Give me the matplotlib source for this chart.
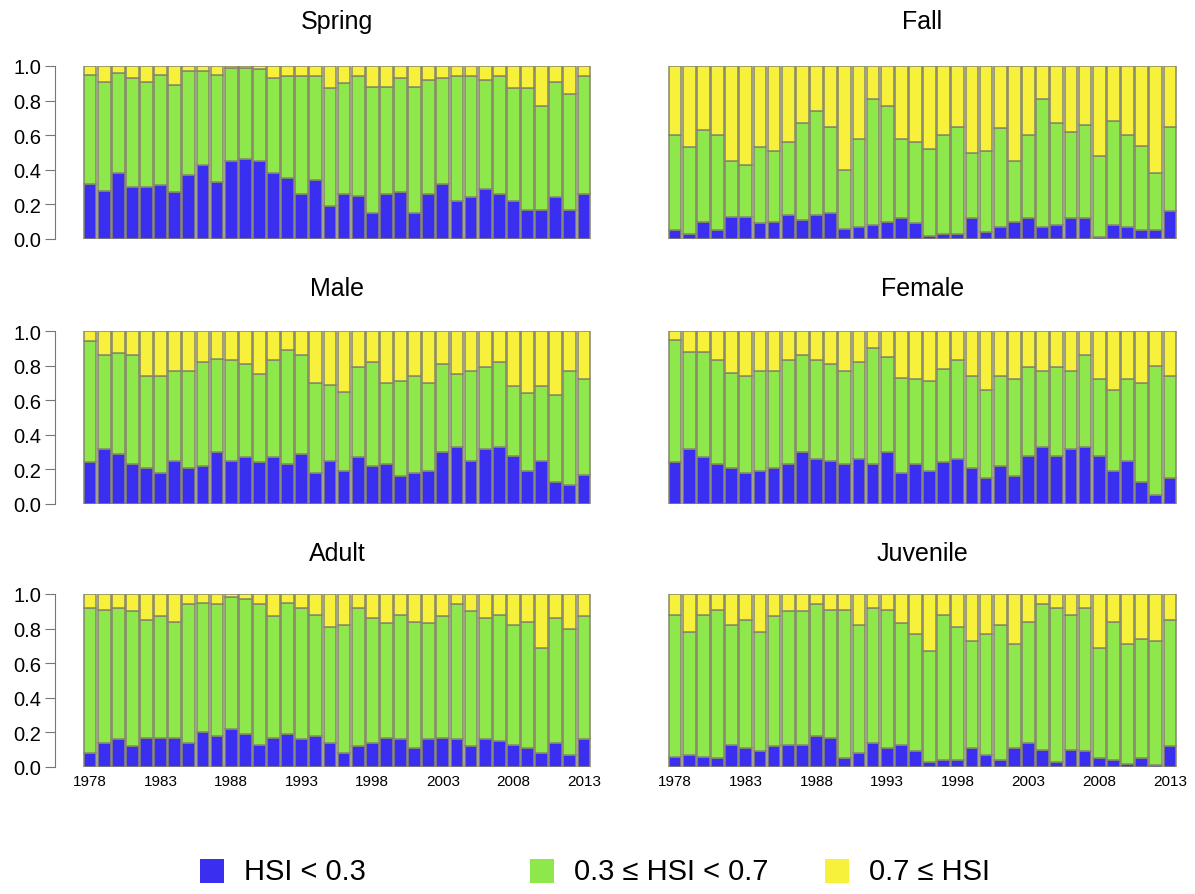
import numpy as np
import matplotlib
matplotlib.use("Agg")
import matplotlib.pyplot as plt
from matplotlib.patches import Rectangle

plt.rcParams['font.family'] = ['Liberation Sans', 'DejaVu Sans']

years = np.arange(1978, 2014)
tick_years = [1978, 1983, 1988, 1993, 1998, 2003, 2008, 2013]
labels = ["HSI < 0.3", "0.3 \u2264 HSI < 0.7", "0.7 \u2264 HSI"]
colors = ["#3a2ef0", "#8ee84c", "#f7f13c"]

# proportions per class
spring_low = [0.32,0.28,0.38,0.30,0.30,0.31,0.27,0.37,0.43,0.33,0.45,0.46,0.45,0.38,0.35,0.26,0.34,0.19,
              0.26,0.25,0.15,0.26,0.27,0.15,0.26,0.32,0.22,0.24,0.29,0.26,0.22,0.17,0.17,0.24,0.17,0.26]
spring_mid = [0.63,0.63,0.58,0.63,0.61,0.64,0.62,0.60,0.54,0.62,0.54,0.53,0.53,0.55,0.59,0.68,0.60,0.68,
              0.64,0.69,0.73,0.62,0.66,0.73,0.66,0.61,0.72,0.70,0.63,0.68,0.65,0.70,0.60,0.67,0.67,0.68]
spring_high = [0.05,0.09,0.04,0.07,0.09,0.05,0.11,0.03,0.03,0.05,0.01,0.01,0.02,0.07,0.06,0.06,0.06,0.13,
               0.10,0.06,0.12,0.12,0.07,0.12,0.08,0.07,0.06,0.06,0.08,0.06,0.13,0.13,0.23,0.09,0.16,0.06]

fall_low = [0.05,0.03,0.10,0.05,0.13,0.13,0.09,0.10,0.14,0.11,0.14,0.15,0.06,0.07,0.08,0.10,0.12,0.09,
            0.02,0.03,0.03,0.12,0.04,0.07,0.10,0.12,0.07,0.08,0.12,0.12,0.01,0.08,0.07,0.05,0.05,0.16]
fall_mid = [0.55,0.50,0.53,0.55,0.32,0.30,0.44,0.41,0.42,0.56,0.60,0.50,0.34,0.51,0.73,0.67,0.46,0.47,
            0.50,0.57,0.62,0.38,0.47,0.57,0.35,0.48,0.74,0.59,0.50,0.54,0.47,0.60,0.53,0.49,0.33,0.49]
fall_high = [0.40,0.47,0.37,0.40,0.55,0.57,0.47,0.49,0.44,0.33,0.26,0.35,0.60,0.42,0.19,0.23,0.42,0.44,
             0.48,0.40,0.35,0.50,0.49,0.36,0.55,0.40,0.19,0.33,0.38,0.34,0.52,0.32,0.40,0.46,0.62,0.35]

male_low = [0.24,0.32,0.29,0.23,0.21,0.18,0.25,0.21,0.22,0.30,0.25,0.27,0.24,0.27,0.23,0.29,0.18,0.25,
            0.19,0.27,0.22,0.23,0.16,0.18,0.19,0.30,0.33,0.25,0.32,0.33,0.28,0.19,0.25,0.13,0.11,0.17]
male_mid = [0.70,0.54,0.58,0.63,0.53,0.56,0.52,0.56,0.60,0.54,0.58,0.54,0.51,0.56,0.66,0.57,0.52,0.44,
            0.46,0.52,0.60,0.47,0.55,0.56,0.51,0.51,0.42,0.52,0.47,0.49,0.40,0.45,0.43,0.50,0.66,0.55]
male_high = [0.06,0.14,0.13,0.14,0.26,0.26,0.23,0.23,0.18,0.16,0.17,0.19,0.25,0.17,0.11,0.14,0.30,0.31,
             0.35,0.21,0.18,0.30,0.29,0.26,0.30,0.19,0.25,0.23,0.21,0.18,0.32,0.36,0.32,0.37,0.23,0.28]

female_low = [0.24,0.32,0.27,0.23,0.21,0.18,0.19,0.21,0.23,0.30,0.26,0.25,0.23,0.26,0.23,0.30,0.18,0.23,
              0.19,0.24,0.26,0.21,0.15,0.22,0.16,0.28,0.33,0.28,0.32,0.33,0.28,0.19,0.25,0.13,0.05,0.15]
female_mid = [0.71,0.56,0.61,0.60,0.55,0.56,0.58,0.56,0.60,0.56,0.57,0.56,0.54,0.56,0.67,0.55,0.55,0.49,
              0.52,0.54,0.57,0.53,0.51,0.52,0.56,0.51,0.44,0.51,0.45,0.53,0.44,0.47,0.47,0.57,0.75,0.59]
female_high = [0.05,0.12,0.12,0.17,0.24,0.26,0.23,0.23,0.17,0.14,0.17,0.19,0.23,0.18,0.10,0.15,0.27,0.28,
               0.29,0.22,0.17,0.26,0.34,0.26,0.28,0.21,0.23,0.21,0.23,0.14,0.28,0.34,0.28,0.30,0.20,0.26]

adult_low = [0.08,0.14,0.16,0.12,0.17,0.17,0.17,0.14,0.20,0.18,0.22,0.19,0.13,0.17,0.19,0.16,0.18,0.14,
             0.08,0.12,0.14,0.17,0.16,0.11,0.16,0.17,0.16,0.12,0.16,0.15,0.13,0.11,0.08,0.14,0.07,0.16]
adult_mid = [0.84,0.77,0.76,0.78,0.68,0.70,0.67,0.80,0.75,0.76,0.76,0.78,0.81,0.70,0.76,0.76,0.70,0.67,
             0.74,0.80,0.72,0.66,0.72,0.73,0.67,0.70,0.78,0.78,0.70,0.73,0.69,0.73,0.61,0.72,0.73,0.71]
adult_high = [0.08,0.09,0.08,0.10,0.15,0.13,0.16,0.06,0.05,0.06,0.02,0.03,0.06,0.13,0.05,0.08,0.12,0.19,
              0.18,0.08,0.14,0.17,0.12,0.16,0.17,0.13,0.06,0.10,0.14,0.12,0.18,0.16,0.31,0.14,0.20,0.13]

juv_low = [0.06,0.07,0.06,0.05,0.13,0.11,0.09,0.12,0.13,0.13,0.18,0.17,0.05,0.08,0.14,0.11,0.13,0.09,
           0.03,0.04,0.04,0.11,0.07,0.04,0.11,0.14,0.10,0.03,0.10,0.09,0.05,0.04,0.02,0.05,0.01,0.12]
juv_mid = [0.82,0.71,0.82,0.86,0.69,0.74,0.69,0.75,0.77,0.77,0.76,0.74,0.86,0.74,0.78,0.80,0.70,0.68,
           0.64,0.84,0.77,0.62,0.70,0.78,0.60,0.70,0.84,0.89,0.78,0.83,0.64,0.80,0.69,0.69,0.72,0.73]
juv_high = [0.12,0.22,0.12,0.09,0.18,0.15,0.22,0.13,0.10,0.10,0.06,0.09,0.09,0.18,0.08,0.09,0.17,0.23,
            0.33,0.12,0.19,0.27,0.23,0.18,0.29,0.16,0.06,0.08,0.12,0.08,0.31,0.16,0.29,0.26,0.27,0.15]

panels = [
    ("Spring", spring_low, spring_mid, spring_high),
    ("Fall", fall_low, fall_mid, fall_high),
    ("Male", male_low, male_mid, male_high),
    ("Female", female_low, female_mid, female_high),
    ("Adult", adult_low, adult_mid, adult_high),
    ("Juvenile", juv_low, juv_mid, juv_high),
]

W, H = 1195, 895
fig = plt.figure(figsize=(W / 100, H / 100), dpi=100)

lefts = [83, 668]
widths = [508, 509]
bottoms = [240, 505, 768]
title_y = [22, 289, 554]
ax_h = 173

x = np.arange(len(years))
bw = 0.9
for i, (name, low, mid, high) in enumerate(panels):
    r, c = divmod(i, 2)
    ax = fig.add_axes([lefts[c] / W, 1 - bottoms[r] / H, widths[c] / W, ax_h / H])
    low = np.array(low); mid = np.array(mid); high = np.array(high)
    kw = dict(width=bw, edgecolor="#86866a", linewidth=1.1)
    ax.bar(x, low, color=colors[0], **kw)
    ax.bar(x, mid, bottom=low, color=colors[1], **kw)
    ax.bar(x, high, bottom=low + mid, color=colors[2], **kw)
    ax.set_xlim(-bw / 2 - 0.05, len(years) - 1 + bw / 2 + 0.05)
    ax.set_ylim(0, 1.0)
    for s in ["top", "right", "bottom"]:
        ax.spines[s].set_visible(False)
    if c == 0:
        ax.spines["left"].set_position(("outward", 20))
        ax.spines["left"].set_bounds(0, 1)
        ax.spines["left"].set_color("#777777")
        ax.set_yticks(np.arange(0, 1.01, 0.2))
        ax.set_yticklabels([f"{v:.1f}" for v in np.arange(0, 1.01, 0.2)], fontsize=14.5)
        ax.tick_params(axis="y", length=7, color="#777777", pad=3)
    else:
        ax.spines["left"].set_visible(False)
        ax.set_yticks([])
    if r == 2:
        ax.set_xticks([list(years).index(y) for y in tick_years])
        ax.set_xticklabels([str(y) for y in tick_years], fontsize=11)
        ax.tick_params(axis="x", length=0, pad=5)
    else:
        ax.set_xticks([])
    fig.text((lefts[c] + widths[c] / 2) / W, 1 - title_y[r] / H, name,
             ha="center", va="center", fontsize=18)

# legend laid out like the original: square then label, three columns
leg_sq_x = [200, 530, 825]
leg_y = 872
sq = 24
for xs, col, lab in zip(leg_sq_x, colors, labels):
    fig.add_artist(Rectangle((xs / W, 1 - (leg_y + sq / 2) / H), sq / W, sq / H,
                             facecolor=col, edgecolor="none", transform=fig.transFigure))
    fig.text((xs + sq + 20) / W, 1 - leg_y / H, lab, ha="left", va="center", fontsize=21)

fig.savefig("out.png", dpi=100, facecolor="white")
